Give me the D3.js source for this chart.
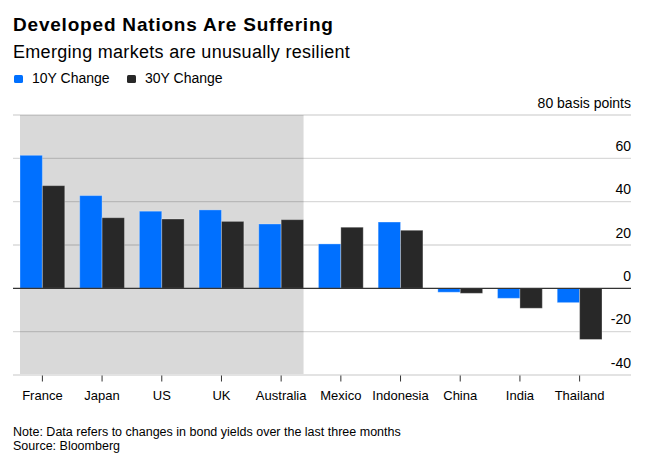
<!DOCTYPE html>
<html>
<head>
<meta charset="utf-8">
<script src="https://cdn.jsdelivr.net/npm/d3@7"></script>
<style>
  body { margin: 0; background: #fff; }
  svg { display: block; font-family: "Liberation Sans", Arial, sans-serif; }
</style>
</head>
<body>
<svg id="chart" width="657" height="464"></svg>
<script>
var countries = ["France", "Japan", "US", "UK", "Australia", "Mexico", "Indonesia", "China", "India", "Thailand"];
var developed = ["France", "Japan", "US", "UK", "Australia"];
var change10y = [61.4, 42.8, 35.6, 36.2, 29.7, 20.5, 30.6, -1.8, -4.6, -6.6];
var change30y = [47.4, 32.6, 32.0, 30.9, 31.7, 28.2, 26.8, -2.3, -9.2, -23.6];
var yTicks = [-40, -20, 0, 20, 40, 60, 80];
var seriesNames = ["10Y Change", "30Y Change"];
var seriesColors = ["#0070ff", "#282828"];

var svg = d3.select("#chart");

var GRID_LEFT = 13, GRID_RIGHT = 631;

var x = d3.scaleBand()
    .domain(countries)
    .range([20, 602])
    .paddingInner(0.25)
    .paddingOuter(0);

var xInner = d3.scaleBand()
    .domain(seriesNames)
    .range([0, x.bandwidth()]);

var y = d3.scaleLinear()
    .domain([-40, 80])
    .range([375, 115]);

// title block
svg.append("text")
    .attr("x", 13).attr("y", 31)
    .style("font-size", "19px").style("font-weight", "bold").style("fill", "#000")
    .style("letter-spacing", "0.8px")
    .text("Developed Nations Are Suffering");

svg.append("text")
    .attr("x", 13).attr("y", 58)
    .style("font-size", "18px").style("fill", "#000")
    .style("letter-spacing", "0.3px")
    .text("Emerging markets are unusually resilient");

// legend
var legend = svg.append("g");
var legendX = [14, 127];
seriesNames.forEach(function(name, i) {
    legend.append("rect")
        .attr("x", legendX[i]).attr("y", 75)
        .attr("width", 9).attr("height", 8)
        .attr("rx", 1.5)
        .style("fill", seriesColors[i]);
    legend.append("text")
        .attr("x", legendX[i] + 18).attr("y", 83)
        .style("font-size", "14px").style("fill", "#000")
        .text(name);
});

// shaded developed-nations band
var devFirst = x(developed[0]);
var devLast = x(developed[developed.length - 1]) + x.bandwidth();
svg.append("rect")
    .attr("x", devFirst).attr("y", y(80))
    .attr("width", devLast - devFirst)
    .attr("height", y(-40) - y(80))
    .style("fill", "#d9d9d9");

// gridlines
svg.append("g")
    .selectAll("line")
    .data(yTicks.filter(function(d) { return d !== 0 && d !== -40; }))
    .enter()
    .append("line")
    .attr("x1", GRID_LEFT).attr("x2", GRID_RIGHT)
    .attr("y1", function(d) { return y(d); })
    .attr("y2", function(d) { return y(d); })
    .style("stroke", function(d) { return d === 80 ? "rgba(0,0,0,0.11)" : "rgba(0,0,0,0.15)"; })
    .style("stroke-width", function(d) { return d === 80 ? 2 : 1.3; });

// y tick labels
svg.append("g")
    .selectAll("text")
    .data(yTicks)
    .enter()
    .append("text")
    .attr("x", GRID_RIGHT)
    .attr("y", function(d) { return y(d) - 7.5; })
    .attr("text-anchor", "end")
    .style("font-size", "14px").style("fill", "#000")
    .text(function(d) { return d === 80 ? "80 basis points" : d; });

// bars
var rows = countries.map(function(c, i) {
    return { country: c, values: [change10y[i], change30y[i]] };
});

var groups = svg.append("g")
    .selectAll("g")
    .data(rows)
    .enter()
    .append("g")
    .attr("transform", function(d) { return "translate(" + x(d.country) + ",0)"; });

groups.selectAll("rect")
    .data(function(d) {
        return d.values.map(function(v, i) { return { name: seriesNames[i], value: v, color: seriesColors[i] }; });
    })
    .enter()
    .append("rect")
    .attr("x", function(d) { return xInner(d.name); })
    .attr("width", xInner.bandwidth())
    .attr("y", function(d) { return Math.min(y(d.value), y(0)); })
    .attr("height", function(d) { return Math.abs(y(d.value) - y(0)); })
    .style("fill", function(d) { return d.color; })
    .style("stroke", "rgba(255,255,255,0.3)")
    .style("stroke-width", 1);

// zero line
svg.append("line")
    .attr("x1", GRID_LEFT).attr("x2", GRID_RIGHT)
    .attr("y1", y(0)).attr("y2", y(0))
    .style("stroke", "#333").style("stroke-width", 1.3);

// bottom axis
svg.append("line")
    .attr("x1", GRID_LEFT).attr("x2", GRID_RIGHT)
    .attr("y1", y(-40)).attr("y2", y(-40))
    .style("stroke", "#e3e3e3").style("stroke-width", 2);

var xAxis = d3.axisBottom(x).tickSize(6).tickPadding(9);
var xg = svg.append("g")
    .attr("transform", "translate(0," + (y(-40) + 0.5) + ")")
    .call(xAxis);
xg.select(".domain").remove();
xg.selectAll(".tick line").style("stroke", "#333");
xg.selectAll(".tick text")
    .style("font-size", "13px")
    .style("font-family", "'Liberation Sans', Arial, sans-serif")
    .style("fill", "#000");

// footnotes
svg.append("text")
    .attr("x", 13).attr("y", 436)
    .style("font-size", "12.5px").style("fill", "#000")
    .text("Note: Data refers to changes in bond yields over the last three months");
svg.append("text")
    .attr("x", 13).attr("y", 450)
    .style("font-size", "12.5px").style("fill", "#000")
    .text("Source: Bloomberg");
</script>
</body>
</html>
